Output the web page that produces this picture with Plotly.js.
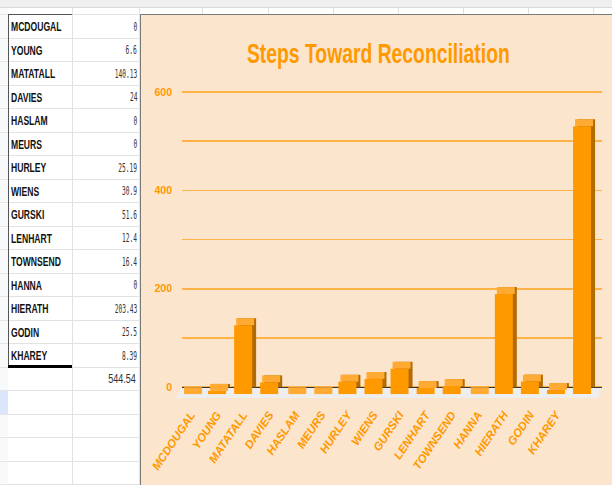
<!DOCTYPE html>
<html>
<head>
<meta charset="utf-8">
<script src="https://cdn.plot.ly/plotly-3.0.1.min.js"></script>
<style>
  html, body { margin:0; padding:0; }
  body { width:612px; height:485px; overflow:hidden; background:#fff; position:relative; font-family:"Liberation Sans",Arial,sans-serif; }
  .abs { position:absolute; }
  .name { position:absolute; font-weight:bold; font-size:13px; line-height:14px; color:#111; white-space:nowrap; transform:scaleX(0.66); transform-origin:0 50%; }
  .val { position:absolute; font-family:"DejaVu Sans Mono","Liberation Mono",monospace; font-size:12px; line-height:14px; color:#333; white-space:nowrap; transform:scaleX(0.52); transform-origin:100% 50%; }
  .tot { position:absolute; font-size:12px; line-height:14px; color:#333; white-space:nowrap; transform:scaleX(0.75); transform-origin:100% 50%; }
</style>
</head>
<body>
<div id="sheet"></div>
<div class="abs" style="left:140px;top:14px;width:472px;height:471px;border-left:1px solid #7a7a7a;border-top:1px solid #7a7a7a;box-sizing:border-box;">
  <div id="chart" style="width:471px;height:470px;"></div>
</div>
<script>
// ---- data read from the sheet / chart ----
const names = ["MCDOUGAL","YOUNG","MATATALL","DAVIES","HASLAM","MEURS","HURLEY","WIENS","GURSKI","LENHART","TOWNSEND","HANNA","HIERATH","GODIN","KHAREY"];
const valueText = ["0","6.6","140.13","24","0","0","25.19","30.9","51.6","12.4","16.4","0","203.43","25.5","8.39"];
const values = [0,6.6,140.13,24,0,0,25.19,30.9,51.6,12.4,16.4,0,203.43,25.5,8.39];
const totalText = "544.54";
const total = 544.54;
const chartLabels = names.concat([""]);
const chartValues = values.concat([total]);
const yTickVals = [0,200,400,600];

// ---- spreadsheet side ----
(function(){
  const sheet = document.getElementById('sheet');
  const add = (cls, style, text) => { const d=document.createElement('div'); d.className=cls; d.setAttribute('style',style); if(text!==undefined) d.textContent=text; sheet.appendChild(d); return d; };
  const RH = 23.5, TOP = 14;
  add('abs','left:0;top:0;width:612px;height:8px;background:#efefef;border-bottom:1px solid #d9d9d9;box-sizing:border-box;');
  add('abs','left:0;top:8px;width:8px;height:477px;background:#f8f9fa;');
  [202,268,333,398,463,528,593].forEach(x=>add('abs','left:'+x+'px;top:8px;width:1px;height:6px;background:#e0e0e0;'));
  add('abs','left:72px;top:8px;width:1px;height:477px;background:#e2e2e2;');
  add('abs','left:139px;top:8px;width:1px;height:477px;background:#e2e2e2;');
  const nRows = names.length + 1 + 4;
  for (let i=0;i<=nRows;i++){
    const y = TOP + i*RH;
    add('abs','left:8px;top:'+y.toFixed(1)+'px;width:132px;height:1px;background:#e2e2e2;');
    add('abs','left:0;top:'+y.toFixed(1)+'px;width:8px;height:1px;background:#e6e6e6;');
  }
  add('abs','left:0;top:'+(TOP+16*RH+1).toFixed(1)+'px;width:8px;height:'+(RH-1)+'px;background:#dbe6fb;');
  add('abs','left:8px;top:'+TOP+'px;width:64px;height:1px;background:#555;');
  add('abs','left:8px;top:'+TOP+'px;width:1px;height:'+(names.length*RH)+'px;background:#555;');
  add('abs','left:8px;top:'+(TOP+names.length*RH-1.5).toFixed(1)+'px;width:64px;height:3px;background:#000;');
  names.forEach((n,i)=>{
    const y = TOP + i*RH;
    add('name','left:11px;top:'+(y+6).toFixed(1)+'px;', n);
    add('val','right:'+(612-137)+'px;top:'+(y+5.5).toFixed(1)+'px;', valueText[i]);
  });
  add('tot','right:'+(612-136)+'px;top:'+(TOP+names.length*RH+5.5).toFixed(1)+'px;', totalText);
})();

// ---- chart ----
const idx = chartLabels.map((_,i)=>i);
const W = 0.69, DX = 0.153, DY = 14;
const sideFace = { type:'bar', x:idx, y:chartValues, base:chartValues.map(()=>0), width:W, offset:-W/2+DX,
  marker:{color:'#B36B00'}, hoverinfo:'skip', showlegend:false };
const topFace = { type:'bar', x:idx, y:chartValues.map(()=>DY), base:chartValues.map(v=>v-DY), width:W, offset:-W/2+DX/2,
  marker:{color:'#FFAA33'}, hoverinfo:'skip', showlegend:false };
const frontFace = { type:'bar', x:idx, y:chartValues, base:chartValues.map(()=>-DY), width:W, offset:-W/2,
  marker:{color:'#FF9900'}, showlegend:false, name:'Steps' };

const orange = '#FF9900';
const layout = {
  width:471, height:470,
  margin:{l:41, r:10, t:75, b:86},
  paper_bgcolor:'#FCE5CD', plot_bgcolor:'#FCE5CD',
  barmode:'overlay',
  showlegend:false,
  title:{ text:'Steps Toward Reconciliation', x:0.504, xref:'container', y:0.919, yref:'container', yanchor:'middle', xanchor:'center',
    font:{ family:'"Liberation Sans",Arial,sans-serif', size:28, color:orange, weight:'bold' } },
  xaxis:{ range:[-0.345, 15.765], tickmode:'array', tickvals:idx, ticktext:chartLabels, tickangle:-56,
    showgrid:false, zeroline:false, showline:false, ticks:'', ticklabelstandoff:6,
    tickfont:{ family:'"Liberation Sans",Arial,sans-serif', size:11.5, color:orange, weight:700, style:'italic' } },
  yaxis:{ range:[-24, 604], tickmode:'array', tickvals:yTickVals, showgrid:true, gridcolor:'#FFB347', gridwidth:1.5,
    minor:{ dtick:100, tick0:0, showgrid:true, gridcolor:'#FFB347', gridwidth:1.5 },
    zeroline:true, zerolinecolor:'#333333', zerolinewidth:1, showline:false, ticks:'', ticklabelstandoff:9,
    tickfont:{ family:'"Liberation Sans",Arial,sans-serif', size:10.5, color:orange, weight:700 } },
  shapes:[
    { type:'path', xref:'paper', yref:'y', layer:'below', line:{width:0}, fillcolor:'#EEEEEE',
      path:'M 0,0 L 1,0 L 0.99,-22 L -0.015,-22 Z' }
  ]
};
Plotly.newPlot('chart', [sideFace, topFace, frontFace], layout, {displayModeBar:false, staticPlot:true}).then(gd=>{
  // narrow the title horizontally (the original uses a condensed face)
  const t = gd.querySelector('.gtitle');
  if (t) {
    const bb = t.getBBox();
    const cx = bb.x + bb.width/2;
    const s = 263 / bb.width;
    const prev = t.getAttribute('transform') || '';
    t.setAttribute('transform', 'translate(' + cx + ',0) scale(' + s + ',1) translate(' + (-cx) + ',0) ' + prev);
  }
});
</script>
</body>
</html>
